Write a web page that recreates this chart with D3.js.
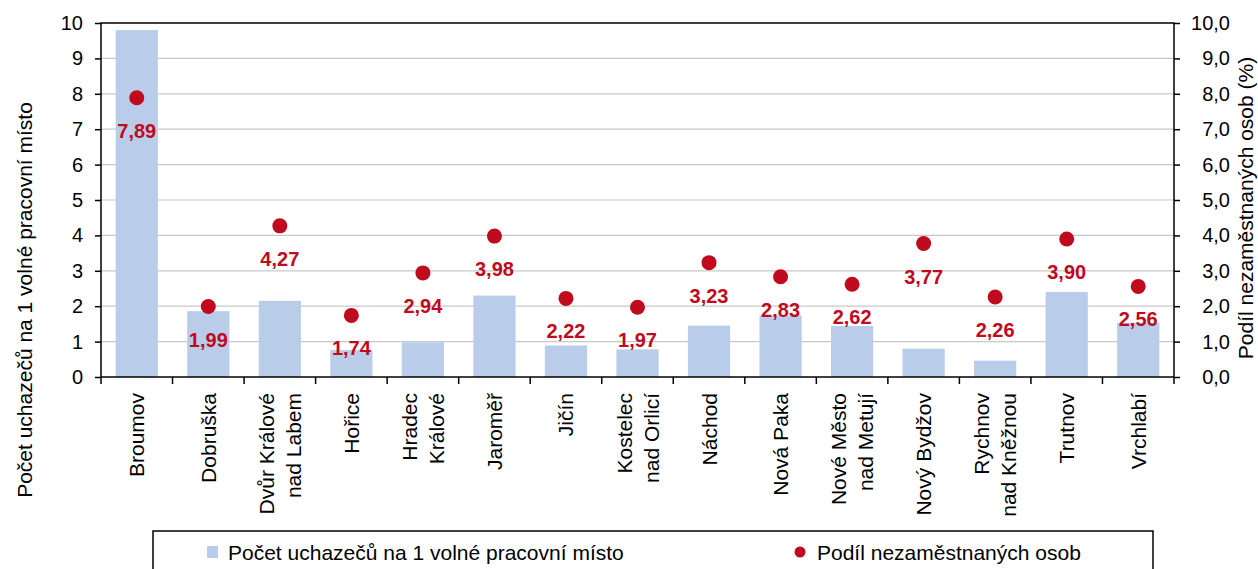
<!DOCTYPE html>
<html><head><meta charset="utf-8">
<script src="https://cdn.jsdelivr.net/npm/d3@7"></script>
<style>
html,body{margin:0;padding:0;background:#fff;}
text{font-family:"Liberation Sans",Arial,sans-serif;}
</style></head>
<body><svg id="c" width="1258" height="569"></svg>
<script>
const categories = [
  ["Broumov"], ["Dobruška"], ["Dvůr Králové","nad Labem"], ["Hořice"],
  ["Hradec","Králové"], ["Jaroměř"], ["Jičín"], ["Kostelec","nad Orlicí"],
  ["Náchod"], ["Nová Paka"], ["Nové Město","nad Metují"], ["Nový Bydžov"],
  ["Rychnov","nad Kněžnou"], ["Trutnov"], ["Vrchlabí"]
];
const applicants = [9.80, 1.86, 2.15, 0.76, 0.98, 2.30, 0.89, 0.78, 1.45, 1.74, 1.44, 0.80, 0.46, 2.40, 1.53];
const unemployment = [7.89, 1.99, 4.27, 1.74, 2.94, 3.98, 2.22, 1.97, 3.23, 2.83, 2.62, 3.77, 2.26, 3.90, 2.56];
const leftTicks = [0,1,2,3,4,5,6,7,8,9,10];
const rightTicks = [0,1,2,3,4,5,6,7,8,9,10];
const leftTitle = "Počet uchazečů na 1 volné pracovní místo";
const rightTitle = "Podíl nezaměstnaných osob (%)";
const legendBar = "Počet uchazečů na 1 volné pracovní místo";
const legendDot = "Podíl nezaměstnaných osob";

const barColor = "#B9CDEA", dotColor = "#C00A1E";
const L = 101, R = 1174, T = 23, B = 377;
const svg = d3.select("#c");
const names = categories.map(c => c.join(" "));
const x = d3.scaleBand().domain(names).range([L, R]).padding(0);
const yL = d3.scaleLinear().domain([0, 10]).range([B, T]);
const yR = d3.scaleLinear().domain([0, 10]).range([B, T]);
const fmt = v => d3.format(".2f")(v).replace(".", ",");
const fmt1 = v => d3.format(".1f")(v).replace(".", ",");

// gridlines
svg.append("g").selectAll("line").data(leftTicks.filter(t => t > 0 && t < 10)).join("line")
  .attr("x1", L).attr("x2", R).attr("y1", d => yL(d)).attr("y2", d => yL(d))
  .attr("stroke", "#C8C8C8").attr("stroke-width", 1.2);

// bars
const bw = x.bandwidth() * 0.59;
svg.append("g").selectAll("rect").data(applicants).join("rect")
  .attr("x", (d, i) => x(names[i]) + x.bandwidth() / 2 - bw / 2)
  .attr("width", bw)
  .attr("y", d => yL(d)).attr("height", d => B - yL(d))
  .attr("fill", barColor);

// frame
svg.append("rect").attr("x", L).attr("y", T).attr("width", R - L).attr("height", B - T)
  .attr("fill", "none").attr("stroke", "#000").attr("stroke-width", 1.5);

// left axis
const gl = svg.append("g").attr("transform", `translate(${L},0)`)
  .call(d3.axisLeft(yL).tickValues(leftTicks).tickSize(6).tickPadding(12).tickFormat(d3.format("d")));
gl.select(".domain").remove();
gl.selectAll("line").attr("stroke", "#000").attr("stroke-width", 1.5);
gl.selectAll("text").attr("font-size", 20).attr("fill", "#000");

// right axis
const gr = svg.append("g").attr("transform", `translate(${R},0)`)
  .call(d3.axisRight(yR).tickValues(rightTicks).tickSize(6).tickPadding(0).tickFormat(fmt1));
gr.select(".domain").remove();
gr.selectAll("line").attr("stroke", "#000").attr("stroke-width", 1.5);
gr.selectAll("text").attr("font-size", 20).attr("fill", "#000")
  .attr("text-anchor", "end").attr("x", 56);

// bottom category ticks
const bounds = names.map(n => x(n)).concat([R]);
svg.append("g").selectAll("line").data(bounds).join("line")
  .attr("x1", d => d).attr("x2", d => d).attr("y1", B).attr("y2", B + 7)
  .attr("stroke", "#000").attr("stroke-width", 1.5);

// category labels
const cg = svg.append("g");
categories.forEach((lines, i) => {
  const cx = x(names[i]) + x.bandwidth() / 2;
  lines.forEach((ln, j) => {
    const off = (j - (lines.length - 1) / 2) * 27;
    cg.append("text").attr("transform", `translate(${cx + off},393) rotate(-90)`)
      .attr("text-anchor", "end").attr("dominant-baseline", "central")
      .attr("font-size", 21).attr("fill", "#000").text(ln);
  });
});

// dots
svg.append("g").selectAll("circle").data(unemployment).join("circle")
  .attr("cx", (d, i) => x(names[i]) + x.bandwidth() / 2)
  .attr("cy", d => yR(d)).attr("r", 7.5).attr("fill", dotColor);
svg.append("g").selectAll("text").data(unemployment).join("text")
  .attr("x", (d, i) => x(names[i]) + x.bandwidth() / 2)
  .attr("y", d => yR(d) + 33)
  .attr("text-anchor", "middle").attr("dominant-baseline", "central")
  .attr("font-size", 20).attr("font-weight", "bold").attr("fill", dotColor)
  .text(fmt);

// axis titles
svg.append("text").attr("transform", "translate(24,300) rotate(-90)")
  .attr("text-anchor", "middle").attr("dominant-baseline", "central")
  .attr("font-size", 21).attr("fill", "#000").text(leftTitle);
svg.append("text").attr("transform", "translate(1245,208) rotate(-90)")
  .attr("text-anchor", "middle").attr("dominant-baseline", "central")
  .attr("font-size", 21).attr("fill", "#000").text(rightTitle);

// legend
svg.append("rect").attr("x", 153).attr("y", 531).attr("width", 1000).attr("height", 60)
  .attr("fill", "#fff").attr("stroke", "#000").attr("stroke-width", 1.5);
svg.append("rect").attr("x", 207).attr("y", 546).attr("width", 11).attr("height", 12).attr("fill", barColor);
svg.append("text").attr("x", 228).attr("y", 552).attr("dominant-baseline", "central")
  .attr("font-size", 21).attr("fill", "#000").text(legendBar);
svg.append("circle").attr("cx", 800).attr("cy", 552).attr("r", 5.5).attr("fill", dotColor);
svg.append("text").attr("x", 817).attr("y", 552).attr("dominant-baseline", "central")
  .attr("font-size", 21).attr("fill", "#000").text(legendDot);
</script></body></html>
